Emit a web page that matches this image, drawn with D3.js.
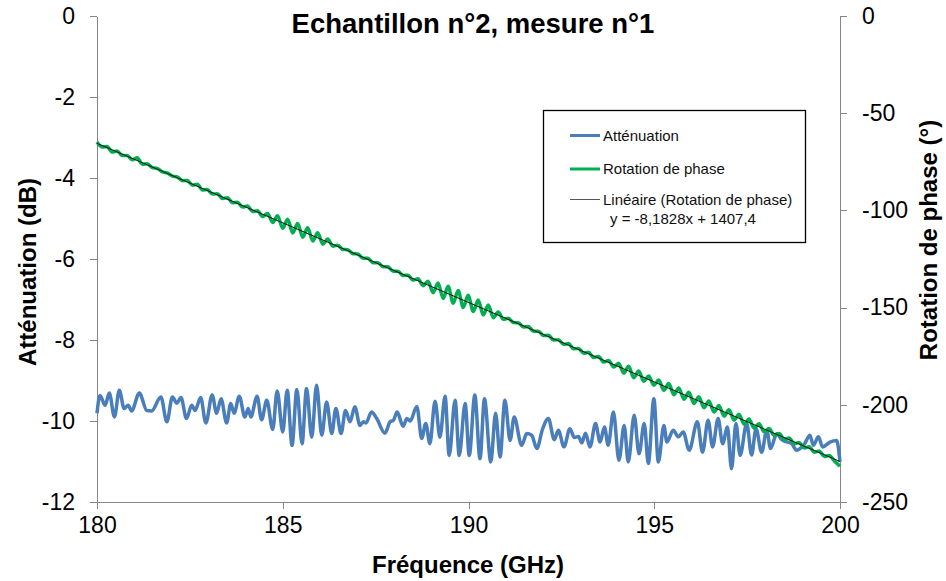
<!DOCTYPE html>
<meta charset="utf-8">
<style>
  body { margin: 0; background: #fff; }
  svg text { font-family: "Liberation Sans", Arial, sans-serif; fill: #000; }
  .axis path, .axis line { stroke: #868686; shape-rendering: crispEdges; }
  .axis text { font-size: 23px; }
  .atitle { font-size: 24px; font-weight: bold; }
  .legend text { font-size: 15px; fill: #111; }
</style>
<svg class="chart" width="946" height="581"></svg>
<script src="https://d3js.org/d3.v7.min.js"></script>
<script>
  // Atténuation (dB) : extrema
  var attFreq = [180.00,180.08,180.22,180.33,180.47,180.60,180.73,180.84,180.93,181.14,
    181.34,181.47,181.72,181.88,182.03,182.15,182.26,182.41,182.55,182.64,
    182.79,182.93,183.10,183.22,183.34,183.49,183.60,183.69,183.83,183.98,
    184.07,184.14,184.31,184.43,184.57,184.73,184.85,185.00,185.12,185.25,
    185.38,185.52,185.64,185.78,185.91,186.05,186.18,186.32,186.43,186.57,
    186.69,186.81,186.94,187.08,187.17,187.24,187.39,187.53,187.75,187.89,
    187.98,188.08,188.24,188.34,188.43,188.61,188.74,188.85,188.96,189.10,
    189.23,189.37,189.48,189.64,189.75,189.91,190.02,190.17,190.31,190.43,
    190.60,190.73,190.85,190.98,191.12,191.23,191.43,191.57,191.70,191.84,
    191.99,192.15,192.31,192.42,192.57,192.73,192.85,192.96,193.05,193.15,
    193.27,193.42,193.54,193.66,193.76,193.90,194.05,194.19,194.30,194.46,
    194.59,194.73,194.84,194.99,195.11,195.26,195.34,195.51,195.65,195.78,
    195.94,196.16,196.30,196.45,196.57,196.72,196.84,196.97,197.08,197.20,
    197.31,197.49,197.62,197.74,197.89,198.03,198.13,198.30,198.40,198.47,
    198.70,198.83,199.05,199.19,199.28,199.42,199.53,199.73,199.91,200.00];
  var attDb = [-9.81,-9.37,-9.61,-9.31,-9.90,-9.24,-9.69,-9.61,-9.75,-9.31,
    -9.74,-9.75,-9.41,-10.02,-9.41,-9.56,-9.42,-9.94,-9.61,-9.74,
    -9.42,-10.05,-9.36,-9.81,-9.45,-10.05,-9.57,-9.81,-9.39,-9.90,
    -9.69,-9.90,-9.39,-9.97,-9.49,-10.21,-9.26,-10.27,-9.24,-10.60,
    -9.22,-10.56,-9.20,-10.40,-9.12,-10.35,-9.53,-10.31,-9.69,-10.31,
    -9.74,-10.02,-9.65,-10.11,-10.02,-10.05,-9.78,-9.94,-10.30,-10.02,
    -9.98,-9.78,-10.13,-9.94,-10.00,-9.64,-10.43,-10.06,-10.56,-9.51,
    -10.40,-9.39,-10.85,-9.49,-10.85,-9.57,-10.85,-9.36,-10.93,-9.45,
    -11.01,-9.81,-10.89,-9.49,-10.48,-9.90,-10.60,-10.31,-10.35,-10.68,
    -10.21,-9.94,-10.46,-10.23,-10.64,-10.19,-10.41,-10.38,-10.54,-10.30,
    -10.64,-10.06,-10.52,-10.15,-10.60,-9.78,-10.97,-10.11,-11.01,-9.86,
    -10.81,-10.06,-11.05,-9.45,-11.01,-10.11,-10.52,-10.23,-10.39,-10.27,
    -10.72,-10.02,-10.77,-9.98,-10.64,-9.94,-10.56,-10.15,-11.18,-10.06,
    -10.85,-10.06,-10.84,-10.19,-10.77,-10.23,-10.68,-10.31,-10.43,-10.48,
    -10.56,-10.72,-10.56,-10.35,-10.60,-10.39,-10.64,-10.52,-10.48,-11.01];

  // Rotation de phase (°)
  var phaseFreq = [180.00,180.14,180.27,180.41,180.54,180.68,180.81,180.95,181.08,181.22,
    181.35,181.49,181.62,181.76,181.89,182.03,182.16,182.30,182.43,182.57,
    182.70,182.84,182.97,183.11,183.24,183.38,183.51,183.65,183.78,183.92,
    184.05,184.19,184.32,184.46,184.59,184.73,184.86,185.00,185.13,185.27,
    185.40,185.54,185.67,185.81,185.94,186.08,186.21,186.35,186.48,186.62,
    186.75,186.89,187.02,187.16,187.29,187.43,187.56,187.70,187.83,187.97,
    188.10,188.24,188.37,188.51,188.64,188.78,188.91,189.05,189.18,189.32,
    189.45,189.59,189.72,189.86,189.99,190.13,190.26,190.40,190.53,190.67,
    190.80,190.94,191.07,191.21,191.34,191.48,191.61,191.75,191.88,192.02,
    192.15,192.29,192.42,192.56,192.69,192.83,192.96,193.10,193.23,193.37,
    193.50,193.64,193.77,193.91,194.04,194.18,194.31,194.45,194.58,194.72,
    194.85,194.99,195.12,195.26,195.39,195.53,195.66,195.80,195.93,196.07,
    196.20,196.34,196.47,196.61,196.74,196.88,197.01,197.15,197.28,197.42,
    197.55,197.69,197.82,197.96,198.09,198.23,198.36,198.50,198.63,198.77,
    198.90,199.04,199.17,199.31,199.44,199.58,199.71,199.85,200.00];
  var phaseDeg = [-64.8,-67.4,-67.1,-70.0,-69.4,-71.8,-71.7,-73.9,-72.9,-76.2,
    -76.0,-78.0,-78.4,-80.2,-80.7,-82.4,-82.8,-84.7,-84.6,-87.0,
    -86.6,-89.5,-89.3,-91.6,-91.4,-93.9,-93.5,-96.1,-95.8,-98.3,
    -97.8,-100.6,-100.2,-103.2,-101.6,-106.2,-102.8,-109.2,-104.5,-111.6,
    -106.7,-113.8,-108.9,-115.8,-111.5,-117.4,-114.7,-118.4,-117.9,-120.1,
    -120.2,-122.3,-122.4,-124.6,-124.6,-126.9,-126.9,-129.0,-129.0,-131.3,
    -131.3,-133.5,-133.3,-135.9,-135.2,-138.7,-136.4,-142.3,-137.3,-145.3,
    -139.0,-147.7,-141.2,-149.9,-143.7,-152.0,-146.1,-153.8,-148.7,-155.2,
    -152.3,-156.0,-155.5,-157.7,-157.8,-160.0,-159.7,-162.2,-162.2,-164.4,
    -164.2,-166.7,-166.5,-168.9,-168.5,-171.2,-171.0,-173.5,-173.0,-175.7,
    -175.1,-178.0,-177.2,-180.6,-178.6,-183.7,-180.2,-186.1,-182.6,-187.9,
    -185.2,-189.9,-187.2,-192.5,-189.1,-194.8,-191.3,-197.1,-193.6,-199.3,
    -195.8,-201.5,-198.0,-203.7,-200.3,-205.8,-202.5,-207.9,-204.9,-210.0,
    -207.3,-212.0,-209.7,-213.9,-212.2,-215.8,-214.7,-217.8,-217.1,-220.0,
    -219.4,-222.2,-221.6,-224.4,-223.8,-226.6,-226.1,-228.9,-231.6];

  // linear trend (Excel) : y = -8,1828x + 1407,4
  var fitSlope = -8.1828, fitIntercept = 1407.4;

  var xTicks = [180, 185, 190, 195, 200];
  var leftTicks = [0, -2, -4, -6, -8, -10, -12];
  var rightTicks = [0, -50, -100, -150, -200, -250];
  var legendLabels = ["Atténuation", "Rotation de phase", "Linéaire (Rotation de phase)"];
  var legendColors = ["#4a7ebb", "#00b050", "#555"];

  var svg = d3.select(".chart");
  var plotLeft = 97, plotRight = 840, plotTop = 16, plotBottom = 502;

  var x = d3.scaleLinear().domain([180, 200]).range([plotLeft, plotRight]);
  var yL = d3.scaleLinear().domain([-12, 0]).range([plotBottom, plotTop]);
  var yR = d3.scaleLinear().domain([-250, 0]).range([plotBottom, plotTop]);

  function minus(s) { return String(s).replace(/\u2212/g, "-"); }

  // axes
  svg.append("g").attr("class", "axis")
      .attr("transform", "translate(0," + plotBottom + ")")
      .call(d3.axisBottom(x).tickValues(xTicks).tickSize(7).tickSizeOuter(0).tickPadding(8));
  svg.append("g").attr("class", "axis")
      .attr("transform", "translate(" + plotLeft + ",0)")
      .call(d3.axisLeft(yL).tickValues(leftTicks).tickSize(7).tickSizeOuter(0).tickPadding(15)
        .tickFormat(function (d) { return minus(d); }));
  svg.append("g").attr("class", "axis")
      .attr("transform", "translate(" + plotRight + ",0)")
      .call(d3.axisRight(yR).tickValues(rightTicks).tickSize(7).tickSizeOuter(0).tickPadding(15)
        .tickFormat(function (d) { return minus(d); }));

  // series
  var lineAtt = d3.line()
      .x(function (d, i) { return x(attFreq[i]); })
      .y(function (d) { return yL(d); })
      .curve(d3.curveMonotoneX);
  var linePhase = d3.line()
      .x(function (d, i) { return x(phaseFreq[i]); })
      .y(function (d) { return yR(d); })
      .curve(d3.curveMonotoneX);

  svg.append("path").datum(attDb)
      .attr("d", lineAtt)
      .attr("fill", "none").attr("stroke", legendColors[0])
      .attr("stroke-width", 3.5).attr("stroke-linejoin", "round");
  svg.append("path").datum(phaseDeg)
      .attr("d", linePhase)
      .attr("fill", "none").attr("stroke", legendColors[1])
      .attr("stroke-width", 3.5).attr("stroke-linejoin", "round");

  var fit = [180, 200].map(function (f) { return [x(f), yR(fitSlope * f + fitIntercept)]; });
  svg.append("path").attr("d", d3.line()(fit))
      .attr("fill", "none").attr("stroke", "#111").attr("stroke-width", 1);

  // titles
  svg.append("text").attr("class", "atitle")
      .attr("x", 473).attr("y", 33).attr("text-anchor", "middle")
      .style("font-size", "27.5px")
      .text("Echantillon n°2, mesure n°1");
  svg.append("text").attr("class", "atitle")
      .attr("x", 468).attr("y", 573).attr("text-anchor", "middle")
      .text("Fréquence (GHz)");
  svg.append("text").attr("class", "atitle")
      .attr("transform", "translate(36,272) rotate(-90)")
      .attr("text-anchor", "middle")
      .text("Atténuation (dB)");
  svg.append("text").attr("class", "atitle")
      .attr("transform", "translate(937,240) rotate(-90)")
      .attr("text-anchor", "middle")
      .text("Rotation de phase (°)");

  // legend
  var lg = svg.append("g").attr("class", "legend");
  lg.append("rect").attr("x", 543.5).attr("y", 110.5).attr("width", 262).attr("height", 132)
      .attr("fill", "#fff").attr("stroke", "#000").attr("stroke-width", 1.3);
  var rowsY = [135.5, 169, 199.5];
  legendLabels.forEach(function (lab, i) {
    lg.append("line").attr("x1", 570).attr("x2", 600).attr("y1", rowsY[i]).attr("y2", rowsY[i])
      .attr("stroke", legendColors[i]).attr("stroke-width", i < 2 ? 3 : 1);
    lg.append("text").attr("x", 603).attr("y", rowsY[i]).attr("dy", "0.35em").text(lab);
  });
  lg.append("text").attr("x", 610).attr("y", 218.5).attr("dy", "0.35em")
      .text("y = " + minus(d3.format(".4f")(fitSlope)).replace(".", ",") + "x + " +
            String(fitIntercept).replace(".", ","));
</script>
